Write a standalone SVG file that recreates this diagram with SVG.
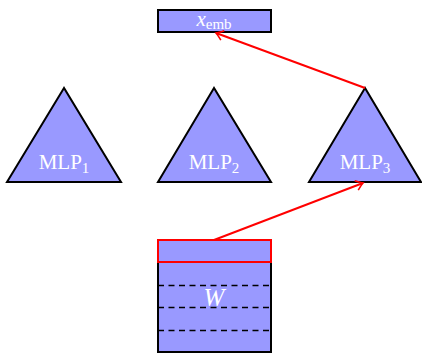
<svg xmlns="http://www.w3.org/2000/svg" width="422" height="354" viewBox="0 0 422 354">
<style>
.n{fill:#9999ff;stroke:#000;stroke-width:2}
.t{fill:#fff;font-family:"Liberation Serif",serif;font-size:21px;text-anchor:middle}
.s{font-size:15px}
.w{font-size:25px;font-style:italic}
.c{stroke:#ff0000;stroke-width:2;fill:none}
.d{stroke:#000;stroke-width:1.3;stroke-dasharray:6,4.5}
</style>
<defs>
<marker id="ah" viewBox="-8 -6 10 12" markerWidth="10" markerHeight="12" refX="0" refY="0" orient="auto" markerUnits="userSpaceOnUse">
<path d="M-7,-5 Q-2,-1 0,0 Q-2,1 -7,5" fill="none" stroke="#ff0000" stroke-width="1.6"/>
</marker>
</defs>
<rect width="422" height="354" fill="#fff"/>
<g id="xemb">
<rect class="n" x="158" y="10" width="113" height="22"/>
<text class="t" x="214" y="26"><tspan font-style="italic">x</tspan><tspan class="s" dy="3">emb</tspan></text>
</g>
<g id="mlp1">
<polygon class="n" points="64,88 7,182 121,182"/>
<text class="t" x="64" y="169">MLP<tspan class="s" dy="4">1</tspan></text>
</g>
<g id="mlp2">
<polygon class="n" points="214,88 158,182 271,182"/>
<text class="t" x="214" y="169">MLP<tspan class="s" dy="4">2</tspan></text>
</g>
<g id="mlp3">
<polygon class="n" points="365,88 309,182 421,182"/>
<text class="t" x="365" y="169">MLP<tspan class="s" dy="4">3</tspan></text>
</g>
<g id="W">
<rect class="n" x="158" y="240" width="113" height="112"/>
<line class="d" x1="158" y1="285.5" x2="271" y2="285.5"/>
<line class="d" x1="158" y1="307.5" x2="271" y2="307.5"/>
<line class="d" x1="158" y1="330.5" x2="271" y2="330.5"/>
<rect x="158" y="240" width="113" height="22" fill="none" stroke="#ff0000" stroke-width="2"/>
<text class="t w" x="214" y="306">W</text>
</g>
<g id="connectors">
<line class="c" x1="365" y1="88" x2="216" y2="33" marker-end="url(#ah)"/>
<line class="c" x1="214" y1="240" x2="363" y2="183" marker-end="url(#ah)"/>
</g>
</svg>
